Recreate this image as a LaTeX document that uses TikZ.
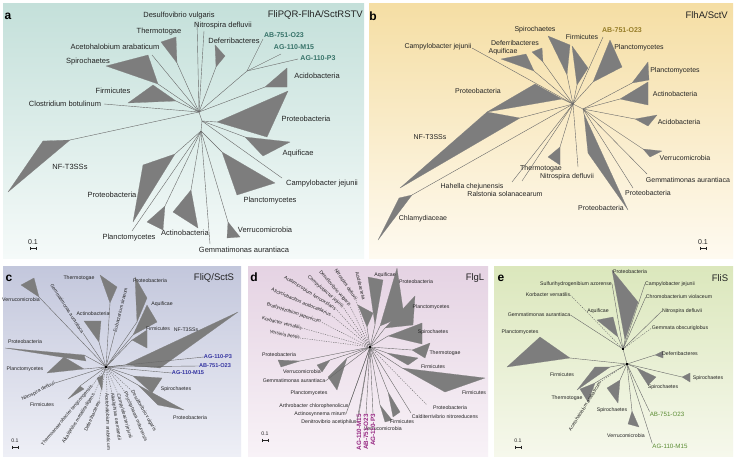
\documentclass[tikz,border=0pt]{standalone}
\usepackage{fontspec}
\setmainfont{Liberation Sans}
\definecolor{txt}{RGB}{35,35,35}
\definecolor{lineg}{RGB}{105,105,105}
\definecolor{trig}{RGB}{125,125,125}
\definecolor{aTop}{RGB}{196,224,218}
\definecolor{aBot}{RGB}{245,250,249}
\definecolor{bTop}{RGB}{245,222,164}
\definecolor{bBot}{RGB}{254,250,240}
\definecolor{cTop}{RGB}{195,199,220}
\definecolor{cBot}{RGB}{238,239,246}
\definecolor{dTop}{RGB}{229,211,227}
\definecolor{dBot}{RGB}{248,242,247}
\definecolor{eTop}{RGB}{219,231,188}
\definecolor{eBot}{RGB}{246,248,236}
\definecolor{accA}{RGB}{55,115,105}
\definecolor{accB}{RGB}{150,125,40}
\definecolor{accC}{RGB}{50,50,160}
\definecolor{accD}{RGB}{150,40,130}
\definecolor{accE}{RGB}{90,140,50}
\newcommand{\cladeTri}[4]{\fill[tri] #2 -- #3 -- #4 -- cycle; \draw[br] (#1) -- #2;}
\newcommand{\scalebar}[4]{\node[#4] (#1) at (#2,#3) {0.1};
  \draw[draw=txt, line width=0.4pt] (#2-3,#3+6) -- (#2+3,#3+6);
  \draw[draw=txt, line width=0.4pt] (#2-3,#3+4.5) -- (#2-3,#3+7.5);
  \draw[draw=txt, line width=0.4pt] (#2+3,#3+4.5) -- (#2+3,#3+7.5);}
\tikzset{
 br/.style={draw=lineg, line width=0.4pt},
 dbr/.style={draw=lineg, line width=0.4pt, dash pattern=on 1.2pt off 1.2pt},
 tri/.style={fill=trig, draw=trig, line width=0.2pt, line join=round},
 lA/.style={font=\fontsize{7.5}{8}\selectfont, text=txt, inner sep=0pt},
 lB/.style={font=\fontsize{7}{8}\selectfont, text=txt, inner sep=0pt},
 lS/.style={font=\fontsize{5.2}{6}\selectfont, text=txt, inner sep=0pt},
 lR/.style={font=\fontsize{4.8}{5}\selectfont, text=txt, inner sep=0pt},
 ttl/.style={font=\fontsize{9.5}{10}\selectfont, text=txt, inner sep=0pt},
 plet/.style={font=\bfseries\fontsize{12}{12}\selectfont, text=black, inner sep=0pt},
 accAs/.style={font=\bfseries\fontsize{7}{8}\selectfont, text=accA, inner sep=0pt},
 accBs/.style={font=\bfseries\fontsize{7}{8}\selectfont, text=accB, inner sep=0pt},
 accCs/.style={font=\bfseries\fontsize{5.6}{6}\selectfont, text=accC, inner sep=0pt},
 accDs/.style={font=\bfseries\fontsize{6.3}{7}\selectfont, text=accD, inner sep=0pt},
 accEs/.style={font=\fontsize{6.2}{7}\selectfont, text=accE, inner sep=0pt},
 hubdot/.style={fill=black, inner sep=0pt, minimum size=2pt, rectangle},
}
\begin{document}
\begin{tikzpicture}[x=1pt,y=-1pt]
\useasboundingbox (0,0) rectangle (735,458);
\fill[white] (0,0) rectangle (735,458);
% ================= panel a =================
\shade[top color=aTop, bottom color=aBot] (3,3) rectangle (364,258);
\node[plet] (la) at (8,16) {a};
\node[ttl, anchor=east] (ta) at (363,15) {FliPQR-FlhA/SctRSTV};
\coordinate (hA1) at (199,112);
\coordinate (hA2) at (202,121);
\coordinate (hA3) at (201,131);
\draw[br] (hA1) -- (hA2) -- (hA3);
\draw[br] (hA1) -- (197,21);
\draw[br] (hA1) -- (204,31);
\cladeTri{hA1}{(177,63)}{(161,42)}{(176,37)}
\cladeTri{hA1}{(216,67)}{(215,45)}{(225,56)}
\draw[br] (hA1) -- (152,55);
\cladeTri{hA1}{(158,84)}{(106,66)}{(148,55)}
\cladeTri{hA1}{(176,101)}{(128,103)}{(153,85)}
\draw[br] (hA1) -- (104,104);
\draw[br] (hA1) -- (247,71) coordinate (aAG);
\draw[br] (aAG) -- (263,39);
\draw[br] (aAG) -- (281,54);
\draw[br] (aAG) -- (298,59);
\cladeTri{hA1}{(265,87)}{(287,68)}{(287,87)}
\cladeTri{hA1}{(70,140)}{(8,192)}{(43,141)}
\cladeTri{hA2}{(217,122)}{(288,91)}{(267,137)}
\cladeTri{hA2}{(245,137)}{(290,142)}{(263,156)}
\draw[br] (hA2) -- (282,178);
\cladeTri{hA3}{(222,152)}{(275,183)}{(237,195)}
\cladeTri{hA3}{(175,154)}{(143,165)}{(133,222)}
\draw[br] (hA3) -- (132,231);
\cladeTri{hA3}{(165,206)}{(147,222)}{(163,230)}
\cladeTri{hA3}{(191,190)}{(173,212)}{(198,228)}
\draw[br] (hA3) -- (210,244);
\cladeTri{hA3}{(228,222)}{(240,237)}{(227,238)}
\node[lA] (aDes) at (179,16) {Desulfovibrio vulgaris};
\node[lA] (aNit) at (223,26) {Nitrospira defluvii};
\node[lA] (aThe) at (159,32) {Thermotogae};
\node[lA] (aDef) at (234,41) {Deferribacteres};
\node[accAs] (aAB) at (284,35) {AB-751-O23};
\node[accAs] (aM15) at (294,47) {AG-110-M15};
\node[accAs] (aP3) at (318,58) {AG-110-P3};
\node[lA] (aAce) at (115,47) {Acetohalobium arabaticum};
\node[lA] (aSpi) at (88,62) {Spirochaetes};
\node[lA] (aAci) at (317,76) {Acidobacteria};
\node[lA] (aFir) at (113,91) {Firmicutes};
\node[lA] (aClo) at (65,104) {Clostridium botulinum};
\node[lA] (aPro1) at (306,119) {Proteobacteria};
\node[lA] (aNF) at (70,167) {NF-T3SSs};
\node[lA] (aAqu) at (298,154) {Aquificae};
\node[lA] (aCam) at (322,184) {Campylobacter jejunii};
\node[lA] (aPro2) at (112,195) {Proteobacteria};
\node[lA] (aPla1) at (270,201) {Planctomycetes};
\node[lA] (aPla2) at (129,238) {Planctomycetes};
\node[lA] (aAct) at (185,233) {Actinobacteria};
\node[lA] (aVer) at (265,230) {Verrucomicrobia};
\node[lA] (aGem) at (244,250) {Gemmatimonas aurantiaca};
\scalebar{aSc}{33}{242}{lB}
% ================= panel b =================
\shade[top color=bTop, bottom color=bBot] (369,3) rectangle (733,258);
\node[plet] (lb) at (373,16) {b};
\node[ttl, anchor=east] (tb) at (728,15) {FlhA/SctV};
\coordinate (hB1) at (573,104);
\coordinate (hB2) at (583,109);
\draw[br] (hB1) -- (hB2);
\draw[br] (hB1) -- (472,48);
\cladeTri{hB1}{(534,71)}{(501,59)}{(526,54)}
\cladeTri{hB1}{(543,62)}{(532,52)}{(542,48)}
\cladeTri{hB1}{(567,75)}{(548,36)}{(570,45)}
\cladeTri{hB1}{(577,85)}{(572,46)}{(588,68)}
\draw[br] (hB1) -- (603,37);
\cladeTri{hB1}{(593,82)}{(610,40)}{(622,67)}
\cladeTri{hB2}{(632,83)}{(648,62)}{(649,80)}
\cladeTri{hB2}{(620,99)}{(648,82)}{(648,105)}
\cladeTri{hB2}{(635,119)}{(657,115)}{(648,126)}
\cladeTri{hB2}{(643,149)}{(662,151)}{(650,157)}
\draw[br] (hB2) -- (647,174);
\draw[br] (hB2) -- (633,188);
\cladeTri{hB2}{(584,114)}{(588,153)}{(628,210)}
\draw[br] (hB1) -- (578,167);
\cladeTri{hB1}{(560,147)}{(548,157)}{(560,165)}
\draw[br] (hB1) -- (512,182);
\draw[br] (hB1) -- (522,181);
\cladeTri{hB1}{(412,195)}{(378,240)}{(399,198)}
\cladeTri{hB1}{(520,118)}{(400,188)}{(487,112)}
\cladeTri{hB1}{(562,99)}{(487,112)}{(535,84)}
\node[lB] (bSpi) at (535,30) {Spirochaetes};
\node[accBs] (bAB) at (622,30) {AB-751-O23};
\node[lB] (bFir) at (582,37) {Firmicutes};
\node[lB] (bDef) at (515,43) {Deferribacteres};
\node[lB] (bPla1) at (639,48) {Planctomycetes};
\node[lB] (bCam) at (438,47) {Campylobacter jejunii};
\node[lB] (bAqu) at (503,52) {Aquificae};
\node[lB] (bPla2) at (675,71) {Planctomycetes};
\node[lB] (bPro1) at (478,91) {Proteobacteria};
\node[lB] (bAct) at (675,94) {Actinobacteria};
\node[lB] (bAci) at (679,122) {Acidobacteria};
\node[lB] (bNF) at (430,137) {NF-T3SSs};
\node[lB] (bVer) at (685,158) {Verrucomicrobia};
\node[lB] (bThe) at (541,169) {Thermotogae};
\node[lB] (bNit) at (567,177) {Nitrospira defluvii};
\node[lB] (bHah) at (472,187) {Hahella chejunensis};
\node[lB] (bGem) at (688,180) {Gemmatimonas aurantiaca};
\node[lB] (bRal) at (505,194) {Ralstonia solanacearum};
\node[lB] (bPro2) at (648,193) {Proteobacteria};
\node[lB] (bPro3) at (601,208) {Proteobacteria};
\node[lB] (bChl) at (423,219) {Chlamydiaceae};
\scalebar{bSc}{703}{242}{lB}
% ================= panel c =================
\shade[top color=cTop, bottom color=cBot] (3,266) rectangle (241,456);
\node[plet] (lc) at (9,278) {c};
\node[ttl] (tc) at (214,278) {FliQ/SctS};
\coordinate (hC) at (106,367);
\cladeTri{hC}{(39,297)}{(21,285)}{(34,278)}
\cladeTri{hC}{(110,303)}{(100,275)}{(117,287)}
\cladeTri{hC}{(137,322)}{(135,277)}{(147,298)}
\cladeTri{hC}{(133,335)}{(147,305)}{(157,322)}
\cladeTri{hC}{(99,342)}{(84,321)}{(101,321)}
\cladeTri{hC}{(132,340)}{(147,330)}{(147,348)}
\cladeTri{hC}{(125,365)}{(238,312)}{(160,368)}
\cladeTri{hC}{(84,355)}{(5,348)}{(86,361)}
\cladeTri{hC}{(84,369)}{(47,373)}{(64,357)}
\cladeTri{hC}{(80,386)}{(68,399)}{(84,389)}
\cladeTri{hC}{(103,375)}{(97,378)}{(102,390)}
\cladeTri{hC}{(133,376)}{(162,378)}{(152,393)}
\cladeTri{hC}{(138,385)}{(184,410)}{(158,405)}
\node[lS] (cVer) at (21,300) {Verrucomicrobia};
\node[lR, anchor=east, rotate=-57] (cGem) at (83,333) {Gemmatimonas aurantiaca};
\node[lS] (cThe) at (79,278) {Thermotogae};
\node[lR, anchor=west, rotate=76] (cEub) at (115,332) {Eubacterium siraeum};
\node[lS] (cPro1) at (150,281) {Proteobacteria};
\node[lS] (cAqu) at (162,304) {Aquificae};
\node[lS] (cAct) at (93,314) {Actinobacteria};
\node[lS] (cFir1) at (158,329) {Firmicutes};
\node[lS] (cNF) at (186,330) {NF-T3SSs};
\node[lS] (cPro2) at (25,342) {Proteobacteria};
\node[lS] (cPla) at (25,369) {Planctomycetes};
\node[accCs] (cP3) at (218,357) {AG-110-P3};
\node[accCs] (cAB) at (215,366) {AB-751-O23};
\node[accCs] (cM15) at (188,373) {AG-110-M15};
\draw[br] (hC) -- (cP3.west);
\draw[br] (hC) -- (cAB.west);
\draw[br] (hC) -- (cM15.west);
\draw[br] (hC) -- (cGem.east);
\draw[br] (hC) -- (cEub.west);
\node[lS] (cSpi) at (176,389) {Spirochaetes};
\node[lS] (cPro3) at (190,418) {Proteobacteria};
\node[lR, anchor=east, rotate=27] (cNit) at (55,383) {Nitrospira defluvii};
\draw[br] (hC) -- (cNit.east);
\node[lS] (cFir2) at (42,405) {Firmicutes};
\node[lR, anchor=east, rotate=50] (cTher) at (92,386) {Thermoanaerobacter tengcongensis};
\node[lR, anchor=east, rotate=58] (cAlk) at (94,394) {Alkaliphilus metalliredigens};
\node[lR, anchor=east, rotate=66] (cDef) at (99,401) {Deferribacteres};
\node[lR, anchor=west, rotate=-88] (cAce) at (107,393) {Acetohalobium arabaticum};
\node[lR, anchor=west, rotate=-81] (cAor) at (112,393) {Alkaliphilus oremlandii};
\node[lR, anchor=west, rotate=-74] (cCam) at (118,394) {Campylobacter jejunii};
\node[lR, anchor=west, rotate=-67] (cPhy) at (125,392) {Phycisphaera mikurensis};
\node[lR, anchor=west, rotate=-60] (cDes) at (132,391) {Desulfovibrio vulgaris};
\foreach \n in {cTher,cAlk,cDef}{\draw[dbr] (hC) -- (\n.east);}
\foreach \n in {cAce,cAor,cCam,cPhy,cDes}{\draw[dbr] (hC) -- (\n.west);}
\node[hubdot] (cHub) at (hC) {};
\scalebar{cSc}{15}{441}{lS}
% ================= panel d =================
\shade[top color=dTop, bottom color=dBot] (248,266) rectangle (488,456);
\node[plet] (ld) at (254,277) {d};
\node[ttl] (td) at (475,278) {FlgL};
\coordinate (hD) at (370,347);
\cladeTri{hD}{(375,325)}{(368,277)}{(383,280)}
\cladeTri{hD}{(367,327)}{(358,305)}{(373,313)}
\cladeTri{hD}{(380,326)}{(397,268)}{(404,316)}
\cladeTri{hD}{(385,328)}{(415,296)}{(413,325)}
\cladeTri{hD}{(388,336)}{(422,323)}{(422,344)}
\cladeTri{hD}{(412,350)}{(430,343)}{(425,358)}
\cladeTri{hD}{(387,353)}{(418,358)}{(408,365)}
\cladeTri{hD}{(402,368)}{(485,378)}{(445,392)}
\draw[dbr] (hD) -- (427,405);
\draw[br] (hD) -- (411,413);
\cladeTri{hD}{(388,392)}{(400,412)}{(393,417)}
\cladeTri{hD}{(380,405)}{(392,420)}{(385,422)}
\cladeTri{hD}{(300,361)}{(278,360)}{(281,367)}
\cladeTri{hD}{(330,360)}{(317,365)}{(322,372)}
\cladeTri{hD}{(347,358)}{(328,377)}{(337,390)}
\node[lR, anchor=east, rotate=-11] (dYer) at (300,338) {Yersinia pestis};
\node[lR, anchor=east, rotate=-14] (dKor) at (302,328) {Korbacter versatilis};
\node[lR, anchor=east, rotate=-18] (dBra) at (321,322) {Bradyrhizobium japonicum};
\node[lR, anchor=east, rotate=-23] (dAli) at (331,315) {Alicyclobacillus acidocaldarius};
\node[lR, anchor=east, rotate=-32] (dAcm) at (336,309) {Acidimicrobium ferrooxidans};
\node[lR, anchor=east, rotate=-41] (dCam) at (343,307) {Campylobacter jejunii};
\node[lR, anchor=east, rotate=-49] (dDes) at (350,306) {Desulfovibrio vulgaris};
\node[lR, anchor=east, rotate=-56] (dNit) at (356,300) {Nitrospira defluvii};
\node[lR, anchor=east, rotate=-76] (dAci) at (364,300) {Acidobacteria};
\foreach \n in {dYer,dKor,dBra,dAli,dAcm,dCam,dDes,dNit}{\draw[dbr] (hD) -- (\n.east);}
\node[lS] (dAqu) at (385,275) {Aquificae};
\node[lS] (dPro1) at (416,282) {Proteobacteria};
\node[lS] (dPla1) at (431,307) {Planctomycetes};
\node[lS] (dSpi) at (433,332) {Spirochaetes};
\node[lS] (dThe) at (445,353) {Thermotogae};
\node[lS] (dFir1) at (433,367) {Firmicutes};
\node[lS] (dFir2) at (474,393) {Firmicutes};
\node[lS] (dPro2) at (450,408) {Proteobacteria};
\node[lS] (dCal) at (445,417) {Calditerrivibrio nitroreducens};
\node[lS] (dFir3) at (402,422) {Firmicutes};
\node[lS] (dVer2) at (383,429) {Verrucomicrobia};
\node[accDs, anchor=east, rotate=90] (dM15) at (359,414) {AG-110-M15};
\node[accDs, anchor=east, rotate=90] (dAB) at (366,414) {AB-751-O23};
\node[accDs, anchor=east, rotate=90] (dP3) at (373,414) {AG-110-P3};
\foreach \n in {dM15,dAB,dP3}{\draw[br] (hD) -- (\n.east);}
\node[lS] (dPro3) at (279,355) {Proteobacteria};
\node[lS] (dVer1) at (302,372) {Verrucomicrobia};
\node[lS] (dGem) at (294,381) {Gemmatimonas aurantiaca};
\node[lS] (dPla2) at (309,393) {Planctomycetes};
\node[lS] (dArt) at (314,406) {Arthrobacter chlorophenolicus};
\node[lS] (dAct) at (320,414) {Actinosynnema mirum};
\node[lS] (dDen) at (329,422) {Denitrovibrio acetiphilus};
\foreach \n in {dGem,dArt,dAct,dDen}{\draw[br] (hD) -- (\n.east);}
\node[hubdot] (dHub) at (hD) {};
\scalebar{dSc}{265}{434}{lS}
% ================= panel e =================
\shade[top color=eTop, bottom color=eBot] (494,266) rectangle (733,456);
\node[plet] (le) at (501,278) {e};
\node[ttl] (te) at (720,278) {FliS};
\coordinate (hE1) at (623,349);
\coordinate (hE2) at (627,364);
\draw[br] (hE1) -- (hE2);
\cladeTri{hE1}{(625,340)}{(612,270)}{(638,302)}
\cladeTri{hE1}{(618,337)}{(597,320)}{(613,317)}
\cladeTri{hE2}{(570,358)}{(507,367)}{(540,337)}
\cladeTri{hE2}{(655,355)}{(663,351)}{(663,358)}
\cladeTri{hE2}{(682,377)}{(690,373)}{(690,382)}
\cladeTri{hE2}{(637,368)}{(656,377)}{(648,385)}
\cladeTri{hE2}{(610,367)}{(577,390)}{(595,367)}
\cladeTri{hE2}{(595,383)}{(580,389)}{(588,402)}
\cladeTri{hE2}{(620,380)}{(607,388)}{(618,403)}
\cladeTri{hE2}{(632,411)}{(628,424)}{(639,427)}
\node[lS] (ePro) at (630,272) {Proteobacteria};
\node[lS] (eSul) at (576,284) {Sulfurihydrogenibium azorense};
\node[lS] (eCam) at (670,284) {Campylobacter jejunii};
\node[lS] (eKor) at (548,295) {Korbacter versatilis};
\node[lS] (eChr) at (679,297) {Chromobacterium violaceum};
\node[lS] (eAqu) at (598,311) {Aquificae};
\node[lS] (eNit) at (682,311) {Nitrospira defluvii};
\node[lS] (eGem) at (539,315) {Gemmatimonas aurantiaca};
\node[lS] (eGob) at (680,328) {Gemmata obscuriglobus};
\node[lS] (ePla) at (520,332) {Planctomycetes};
\node[lS] (eDef) at (680,354) {Deferribacteres};
\node[lS] (eSpi1) at (708,378) {Spirochaetes};
\node[lS] (eFir) at (562,375) {Firmicutes};
\node[lS] (eSpi2) at (663,387) {Spirochaetes};
\node[lS] (eThe) at (567,398) {Thermotogae};
\node[lR, anchor=east, rotate=58] (eAce) at (600,382) {Acetohalobium arabaticum};
\node[lS] (eSpi3) at (612,410) {Spirochaetes};
\node[accEs] (eAB) at (667,414) {AB-751-O23};
\node[lS] (eVer) at (626,436) {Verrucomicrobia};
\node[accEs] (eM15) at (670,446) {AG-110-M15};
\draw[br] (hE1) -- (eSul.east);
\draw[br] (hE1) -- (eCam.west);
\draw[br] (hE1) -- (eChr.west);
\draw[br] (hE1) -- (eNit.west);
\draw[dbr] (hE1) -- (eGob.west);
\draw[dbr] (hE1) -- (eKor.east);
\draw[br] (hE1) -- (eGem.east);
\draw[dbr] (hE2) -- (eAce.east);
\draw[br] (hE2) -- (eAB.north west);
\draw[br] (hE2) -- (eM15.north west);
\node[hubdot] (eHub1) at (hE1) {};
\node[hubdot] (eHub2) at (hE2) {};
\scalebar{eSc}{518}{441}{lS}
\end{tikzpicture}
\end{document}
